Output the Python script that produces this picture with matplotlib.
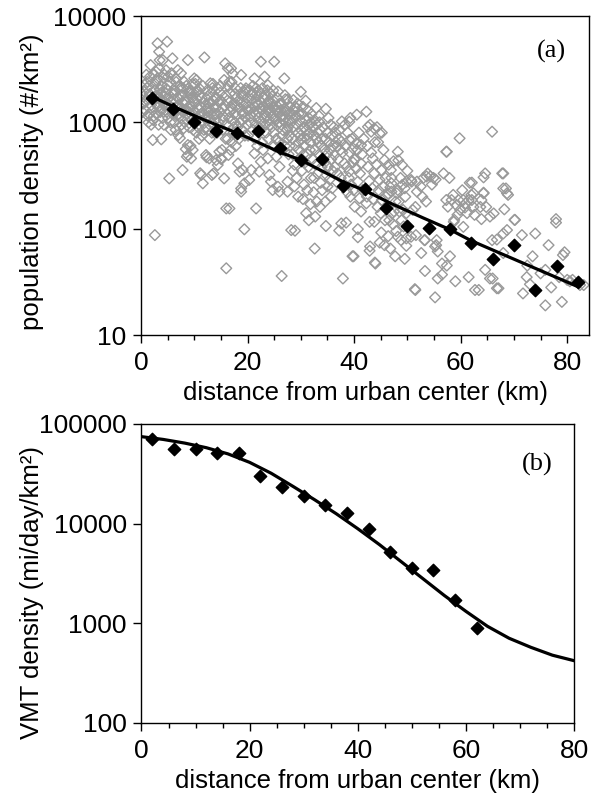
import matplotlib
matplotlib.use("Agg")
import matplotlib.pyplot as plt
from matplotlib.ticker import MultipleLocator, NullLocator

plt.rcParams['font.family'] = ['Liberation Sans', 'DejaVu Sans']

# ---- (a) census tracts: distance (km) and population density (#/km2) ----
tract_km = [
    0.4, 0.6, 0.9, 1.2, 1.5, 1.8, 0.5, 0.8, 1.1, 1.4,
    1.7, 1.9, 0.7, 1.0, 1.3, 1.6, 0.3, 1.0, 1.5, 1.9,
    2.2, 2.5, 2.8, 3.1, 3.4, 3.7, 3.9, 2.3, 2.6, 2.9,
    3.2, 3.5, 3.8, 2.4, 2.7, 3.0, 3.3, 3.6, 3.1, 3.4,
    2.8, 2.6, 2.2, 3.8, 2.1, 2.9, 3.5, 3.9, 2.4, 3.3,
    4.1, 4.4, 4.7, 4.9, 5.2, 5.5, 5.9, 4.2, 4.5, 4.8,
    5.1, 5.4, 5.7, 6.0, 4.3, 4.6, 5.0, 5.3, 5.6, 5.9,
    5.3, 4.4, 4.8, 5.5, 4.2, 5.8, 4.0, 5.1, 4.6, 5.7,
    6.2, 6.5, 6.9, 7.1, 7.4, 7.7, 8.0, 6.3, 6.6, 6.9,
    7.2, 7.5, 7.8, 6.4, 6.7, 7.0, 7.3, 7.6, 7.9, 7.8,
    7.3, 6.1, 6.8, 7.5, 6.5, 7.2, 7.9, 6.2, 7.0, 7.6,
    8.1, 8.5, 8.8, 9.1, 9.4, 9.7, 10.0, 8.3, 8.6, 8.9,
    9.2, 9.5, 9.8, 8.4, 8.7, 9.0, 9.3, 9.6, 9.9, 8.8,
    9.7, 8.8, 9.4, 8.2, 8.5, 9.0, 9.5, 8.9, 9.8, 8.4,
    10.1, 10.4, 10.7, 11.0, 11.3, 11.6, 11.9, 10.2, 10.5, 10.8,
    11.1, 11.4, 11.7, 10.3, 10.6, 10.9, 11.2, 11.5, 11.3, 11.6,
    11.1, 10.1, 10.6, 11.0, 11.8, 10.4, 11.4, 10.9, 11.9, 10.2,
    12.1, 12.4, 12.7, 13.0, 13.3, 13.6, 13.9, 12.2, 12.5, 12.8,
    13.1, 13.4, 13.3, 12.3, 12.6, 12.9, 13.2, 13.5, 13.8, 12.2,
    13.6, 12.0, 12.6, 13.0, 13.7, 12.4, 13.2, 13.9, 12.8, 13.5,
    14.1, 14.4, 14.7, 15.0, 15.3, 15.6, 15.9, 14.2, 14.5, 14.8,
    15.1, 15.4, 15.7, 14.3, 14.6, 14.9, 15.2, 15.5, 15.8, 14.1,
    14.7, 14.4, 15.0, 15.6, 16.0, 16.0, 14.0, 15.3, 14.8, 15.9,
    16.3, 16.6, 16.9, 17.2, 16.2, 16.5, 16.8, 17.1, 17.4, 17.7,
    16.4, 16.7, 17.0, 17.3, 17.6, 17.9, 16.1, 16.4, 16.9, 17.5,
    17.8, 18.0, 16.6, 17.2, 17.6, 16.3, 17.0, 17.4, 17.9, 16.8,
    18.8, 18.2, 18.5, 19.1, 18.8, 19.4, 18.8, 19.4, 18.3, 18.6,
    18.9, 19.2, 19.5, 19.8, 18.4, 18.7, 19.0, 19.3, 19.6, 19.9,
    19.7, 18.1, 18.6, 19.1, 19.6, 18.4, 19.0, 19.4, 19.9, 20.0,
    20.3, 21.3, 21.6, 21.6, 20.7, 22.2, 21.3, 22.5, 20.2, 20.5,
    20.8, 21.1, 21.4, 21.7, 22.0, 20.4, 20.7, 21.0, 21.3, 21.6,
    21.9, 20.1, 20.6, 21.0, 21.5, 21.9, 20.3, 20.9, 21.8, 22.0,
    22.5, 23.2, 23.8, 24.1, 24.4, 23.8, 22.3, 22.6, 22.9, 23.2,
    23.5, 23.8, 24.0, 22.4, 22.7, 23.0, 23.3, 23.6, 23.9, 22.2,
    22.8, 23.4, 23.9, 22.5, 23.1, 23.7, 24.0, 22.9, 23.5, 22.1,
    25.0, 25.7, 25.7, 24.7, 26.0, 26.0, 25.4, 24.2, 24.5, 24.8,
    25.1, 25.4, 25.7, 26.0, 24.3, 24.6, 24.9, 25.2, 25.5, 25.8,
    24.4, 25.0, 25.6, 24.7, 25.3, 25.9, 24.2, 24.8, 25.5, 26.0,
    26.9, 27.5, 27.5, 27.5, 26.4, 26.3, 26.6, 26.9, 27.2, 27.5,
    27.8, 26.4, 26.7, 27.0, 27.3, 27.6, 27.9, 26.5, 27.1, 27.7,
    26.2, 26.8, 27.4, 28.0, 26.6, 27.2, 27.8, 26.3, 27.0, 27.9,
    28.6, 30.0, 28.2, 28.9, 28.3, 28.6, 28.9, 29.2, 29.5, 29.8,
    28.4, 28.7, 29.0, 29.3, 29.6, 29.9, 28.5, 29.1, 29.7, 28.8,
    29.4, 30.0, 28.2, 29.0, 29.6, 28.5, 29.2, 29.8, 28.8, 29.5,
    30.3, 30.6, 30.9, 31.2, 31.5, 31.8, 30.4, 30.7, 31.0, 31.3,
    31.6, 31.9, 30.5, 31.1, 31.7, 30.2, 30.8, 31.4, 31.9, 30.6,
    31.2, 31.8, 30.4, 31.0, 31.5, 30.9, 31.3, 30.1, 31.6, 32.0,
    32.9, 34.7, 32.6, 32.3, 32.6, 32.9, 33.2, 33.5, 33.8, 32.4,
    32.7, 33.0, 33.3, 33.6, 33.9, 32.2, 32.8, 33.4, 33.9, 32.5,
    33.1, 33.7, 32.4, 33.0, 33.6, 34.0, 32.7, 33.4, 34.2, 34.4,
    34.7, 35.0, 35.3, 35.6, 34.6, 34.9, 35.2, 35.5, 35.8, 34.5,
    35.1, 35.7, 36.0, 34.8, 35.4, 36.0, 35.0, 35.6, 34.6, 35.9,
    37.7, 36.3, 37.6, 37.6, 37.2, 37.9, 38.2, 38.2, 36.5, 36.8,
    37.1, 37.4, 36.2, 36.6, 37.0, 37.3, 37.8, 36.4, 36.9, 37.5,
    39.3, 39.1, 38.5, 39.1, 39.8, 39.1, 39.7, 39.9, 38.4, 38.8,
    39.2, 39.6, 40.0, 38.6, 39.0, 39.4, 39.8, 38.7, 39.3, 39.9,
    40.5, 40.4, 41.3, 40.4, 41.3, 40.7, 41.6, 41.0, 41.3, 40.1,
    40.7, 40.7, 42.3, 42.3, 40.9, 41.5, 40.2, 41.8, 40.6, 41.1,
    42.6, 43.2, 43.8, 43.0, 43.5, 42.6, 43.8, 42.9, 43.8, 42.9,
    43.9, 43.0, 44.0, 42.5, 43.2, 43.9, 42.8, 43.4, 42.4, 43.6,
    44.3, 44.8, 45.2, 45.7, 45.1, 44.8, 45.1, 44.8, 45.7, 45.2,
    44.5, 45.5, 44.2, 45.9, 44.6, 45.4, 46.0, 44.4, 45.0, 45.8,
    46.9, 46.8, 46.4, 46.8, 47.7, 47.0, 47.0, 48.2, 47.1, 47.5,
    48.0, 47.0, 46.5, 47.4, 47.8, 46.2, 46.6, 47.3, 47.9, 46.4,
    48.2, 49.8, 49.0, 49.0, 48.2, 48.8, 49.8, 49.8, 49.5, 48.5,
    49.2, 49.8, 48.4, 49.6, 48.9, 49.3, 48.7, 50.0, 48.3, 49.5,
    50.7, 50.8, 51.8, 51.8, 50.7, 51.6, 51.5, 51.4, 51.0, 51.5,
    53.2, 52.6, 53.3, 53.3, 53.0, 53.6, 52.5, 53.8, 52.8, 53.5,
    55.4, 55.7, 55.7, 55.2, 55.2, 55.5, 54.3, 54.9, 54.6, 55.3,
    56.8, 57.3, 57.4, 57.9, 57.3, 57.6, 56.5, 56.5, 57.4, 58.0,
    59.8, 58.7, 58.8, 59.6, 59.0, 58.6, 59.2, 59.9, 58.3, 59.4,
    60.5, 60.5, 60.8, 61.7, 61.5, 61.5, 60.9, 61.2, 62.0, 60.3,
    62.1, 62.4, 62.4, 62.6, 62.7, 63.4, 63.7, 63.9, 63.9, 62.1,
    64.3, 64.3, 64.6, 64.3, 64.6, 65.5, 65.9, 65.5, 65.9, 64.8,
    66.2, 66.8, 66.0, 66.8, 67.1, 67.8, 68.0, 68.0, 68.0, 68.0,
    68.5, 68.9, 68.2, 68.7, 68.7, 70.1, 70.2, 71.5, 72.4, 71.7,
    75.9, 79.0, 79.2, 77.9, 77.9, 80.0, 82.4, 83.1, 75.9, 73.0,
    74.0, 76.5, 78.5, 73.5, 77.0, 81.0, 72.5, 75.0, 80.5, 79.5,
]
tract_density = [
    1500, 1950, 1560, 2410, 1200, 3460, 1750, 1300, 2100, 1000,
    2700, 1450, 2250, 1650, 1150, 1850, 1250, 2800, 2200, 950,
    1300, 2000, 3000, 5540, 4620, 1600, 2200, 1050, 1750, 2500,
    1400, 3850, 1900, 1150, 2300, 1800, 950, 1250, 2600, 3200,
    1500, 87, 682, 692, 1650, 1200, 2050, 1350, 2800, 1700,
    3850, 2800, 3090, 5740, 1700, 2400, 4000, 1250, 1550, 2050,
    1100, 1350, 2900, 1650, 950, 1900, 2250, 1450, 850, 1200,
    297, 1750, 1250, 1000, 2600, 1550, 1100, 2700, 1450, 1900,
    1500, 2600, 3100, 1200, 2100, 1800, 880, 1000, 2400, 1700,
    1350, 2900, 1550, 2000, 1150, 760, 2200, 950, 1250, 356,
    712, 1250, 1400, 1100, 850, 1650, 2100, 1850, 1450, 1300,
    2410, 1300, 3850, 1900, 1050, 2300, 2590, 1600, 475, 1150,
    2000, 1400, 850, 560, 1750, 1250, 600, 1700, 1100, 612,
    550, 493, 458, 1000, 2200, 900, 1850, 1400, 1300, 1550,
    1500, 2500, 900, 1800, 1200, 2200, 4080, 1000, 1650, 1350,
    2050, 750, 1550, 1900, 1100, 700, 1400, 1000, 320, 267,
    332, 1250, 2000, 1150, 850, 800, 1700, 1450, 1200, 2300,
    1450, 2000, 1150, 2330, 800, 1600, 1050, 900, 1750, 458,
    1300, 2100, 320, 470, 1250, 700, 1900, 950, 1400, 493,
    330, 1100, 850, 1550, 1200, 1350, 1000, 1700, 1500, 2300,
    1200, 2090, 900, 1600, 1350, 2500, 700, 1700, 1000, 1900,
    450, 1150, 1450, 800, 1550, 2200, 550, 1050, 3590, 442,
    530, 397, 458, 297, 155, 42.4, 1350, 850, 1250, 1800,
    3220, 2410, 3220, 2870, 1600, 1100, 1900, 1350, 800, 2100,
    493, 1250, 650, 1500, 1000, 1700, 950, 2200, 1400, 1200,
    600, 1450, 155, 1050, 1850, 700, 2400, 900, 1150, 550,
    2790, 411, 344, 356, 239, 267, 223, 98.6, 1600, 1000,
    1800, 1250, 750, 1500, 1350, 2100, 850, 1450, 1100, 1700,
    2090, 900, 1550, 1200, 2000, 700, 1050, 1900, 950, 1300,
    287, 2590, 2090, 155, 356, 344, 510, 427, 1400, 1000,
    1800, 1250, 700, 1550, 1100, 2000, 1650, 850, 1400, 1200,
    1750, 750, 1150, 2200, 950, 1450, 1300, 1900, 600, 2000,
    3720, 2690, 2240, 320, 277, 458, 1350, 1000, 1700, 1200,
    800, 1500, 1050, 1900, 650, 1400, 1800, 1150, 1350, 900,
    2100, 950, 700, 1550, 1100, 2000, 1600, 550, 1250, 1250,
    3720, 1950, 248, 231, 223, 383, 475, 1250, 900, 1600,
    1100, 700, 1400, 1000, 1500, 1150, 800, 1300, 950, 1200,
    1850, 600, 1700, 1400, 1050, 650, 950, 2000, 1300, 1500,
    2590, 1640, 223, 277, 35.9, 1150, 850, 1350, 1000, 700,
    1200, 1500, 1050, 600, 1300, 900, 1050, 750, 1650, 500,
    1300, 1150, 850, 1400, 550, 1250, 750, 950, 1800, 600,
    1620, 1940, 97, 95.7, 1200, 900, 1100, 1350, 800, 1050,
    700, 1300, 600, 950, 1200, 750, 500, 1150, 550, 400,
    1500, 850, 1000, 1400, 650, 350, 300, 450, 250, 200,
    1200, 900, 1050, 750, 1100, 650, 1400, 600, 850, 1300,
    950, 1000, 500, 700, 550, 350, 420, 380, 300, 260,
    230, 170, 190, 140, 120, 1600, 500, 700, 800, 1200,
    1364, 1340, 65, 900, 1050, 700, 800, 1000, 600, 750,
    550, 950, 650, 850, 700, 450, 400, 500, 380, 300,
    330, 270, 220, 180, 160, 230, 130, 1150, 900, 550,
    106, 800, 650, 950, 700, 500, 1100, 550, 750, 420,
    380, 450, 600, 320, 290, 350, 250, 200, 180, 240,
    1020, 493, 658, 112, 96, 34, 944, 411, 800, 600,
    700, 550, 900, 650, 450, 850, 520, 380, 330, 300,
    1100, 1014, 114, 682, 569, 344, 55, 55, 600, 800,
    520, 700, 450, 380, 300, 260, 420, 220, 200, 230,
    1180, 634, 612, 369, 411, 277, 231, 193, 145, 161,
    99, 83, 1260, 173, 800, 500, 450, 700, 550, 330,
    910, 817, 877, 950, 458, 383, 331, 116, 116, 62,
    48, 68, 47, 600, 520, 650, 280, 240, 200, 190,
    900, 787, 800, 442, 356, 287, 92, 74, 70, 186,
    650, 550, 400, 300, 230, 250, 200, 160, 140, 120,
    356, 245, 214, 65, 55, 223, 267, 530, 139, 145,
    215, 300, 400, 430, 180, 160, 120, 110, 95, 85,
    231, 277, 257, 397, 84, 78, 81, 69, 52, 145,
    150, 140, 180, 200, 120, 105, 300, 350, 440, 240,
    287, 277, 277, 223, 84, 87, 26.5, 27, 150, 160,
    78, 59, 40, 78, 300, 310, 250, 330, 200, 180,
    70, 61, 34, 22.6, 68, 78, 310, 300, 260, 290,
    331, 530, 530, 300, 186, 161, 37, 47, 45, 55,
    708, 116, 121, 186, 32, 208, 166, 150, 186, 135,
    104, 186, 158, 270, 35, 186, 173, 140, 208, 230,
    271, 215, 160, 135, 26.5, 26.5, 160, 186, 123, 186,
    304, 218, 331, 215, 41, 34, 817, 130, 78, 160,
    139, 79, 34, 27.5, 27.5, 331, 331, 239, 90, 59,
    239, 208, 152, 215, 97, 121, 121, 87, 35, 24.6,
    19, 20.5, 56.5, 114, 123, 33, 29.5, 29.5, 41, 30,
    90, 70, 35, 55, 28, 33, 45, 38, 32, 60,
]

# ---- (a) averages in 4 km rings and fitted trend ----
ring_km = [2, 6, 10, 14, 18, 22, 26, 30, 34, 38, 42, 46, 50, 54, 58, 62, 66, 70, 74, 78, 82]
ring_density = [1705, 1334, 1000, 828, 787, 828, 569, 442, 452, 253, 236, 158, 106, 101, 99,
                74, 52, 70, 26.4, 44.8, 31.6]
trend_km = [2, 6, 12, 19, 26, 30, 38, 42, 47, 53, 58, 62, 72, 82]
trend_density = [1750, 1413, 1047, 759, 525, 442, 275, 229, 172, 126, 98, 77, 46.8, 28.5]

# ---- (b) VMT density: ring averages and model curve ----
vmt_km = [2, 6, 10, 14, 18, 22, 26, 30, 34, 38, 42, 46, 50, 54, 58, 62]
vmt_density = [70700, 55700, 55700, 50800, 50800, 30100, 23500, 18950, 15400, 12900, 8850,
               5240, 3560, 3430, 1715, 891]
vmt_model_km = [0, 4, 8, 12, 16, 20, 24, 28, 32, 36, 40, 44, 48, 52, 56, 60, 64, 68, 72, 76, 80]
vmt_model = [74600, 70000, 64300, 57800, 50100, 41200, 32000, 23700, 17400, 12600, 8900, 6170,
             4170, 2820, 1905, 1320, 933, 708, 575, 479, 422]

pop_ticks = [10, 100, 1000, 10000]
vmt_ticks = [100, 1000, 10000, 100000]
x_ticks = [0, 20, 40, 60, 80]

fig = plt.figure(figsize=(5.92, 7.98), dpi=100)
ax1 = fig.add_axes([0.2382, 0.5802, 0.7568, 0.3997])
ax2 = fig.add_axes([0.2390, 0.0940, 0.7306, 0.3747])

TICK_FS = 19
LABEL_FS = 18.5


def style_axes(ax, yticks, xmax):
    ax.set_yscale('log')
    ax.set_xlim(0, xmax)
    ax.set_ylim(yticks[0], yticks[-1])
    ax.set_yticks(yticks)
    ax.set_yticklabels([str(t) for t in yticks])
    ax.yaxis.set_minor_locator(NullLocator())
    ax.set_xticks(x_ticks)
    ax.set_xticklabels([str(t) for t in x_ticks])
    ax.xaxis.set_minor_locator(MultipleLocator(5))
    ax.tick_params(axis='both', which='major', direction='out', length=5.5, width=1.0,
                   labelsize=TICK_FS, pad=5)
    ax.tick_params(axis='x', which='major', pad=6)
    ax.tick_params(axis='x', which='minor', direction='out', length=3.5, width=1.0)
    for s in ax.spines.values():
        s.set_linewidth(1.0)
        s.set_color('black')
    ax.set_xlabel('distance from urban center (km)', fontsize=LABEL_FS, labelpad=4)


# panel (a)
ax1.scatter(tract_km, tract_density, marker='D', s=30, facecolors='none',
            edgecolors='#999999', linewidths=1.0, zorder=2)
ax1.plot(trend_km, trend_density, color='black', lw=2.3, zorder=3)
ax1.scatter(ring_km, ring_density, marker='D', s=40, color='black', zorder=4)
style_axes(ax1, pop_ticks, 84.1)
ax1.set_ylabel('population density (#/km²)', fontsize=LABEL_FS)
ax1.yaxis.set_label_coords(-0.2165, 0.48)
ax1.text(0.917, 0.89, '(a)', transform=ax1.transAxes, ha='center', va='center',
         fontsize=19, family=['Liberation Serif', 'DejaVu Serif'])

# panel (b)
ax2.plot(vmt_model_km, vmt_model, color='black', lw=2.3, zorder=3)
ax2.scatter(vmt_km, vmt_density, marker='D', s=40, color='black', zorder=4)
style_axes(ax2, vmt_ticks, 80)
ax2.set_ylabel('VMT density (mi/day/km²)', fontsize=LABEL_FS)
ax2.yaxis.set_label_coords(-0.2254, 0.435)
ax2.text(0.914, 0.866, '(b)', transform=ax2.transAxes, ha='center', va='center',
         fontsize=19, family=['Liberation Serif', 'DejaVu Serif'])

fig.savefig('out.png', dpi=100)
